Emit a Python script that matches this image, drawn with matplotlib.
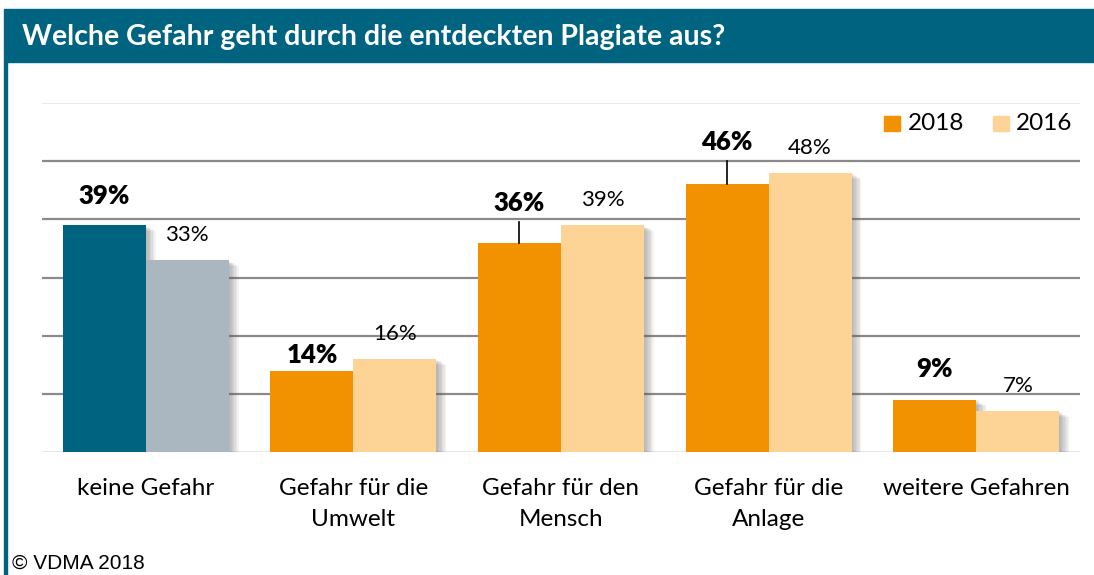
import matplotlib
matplotlib.use("Agg")
import matplotlib.pyplot as plt
import matplotlib.patheffects as pe
from matplotlib.patches import Rectangle
import numpy as np

TEAL = "#00637F"
GREY = "#ABB7C0"
ORANGE = "#F39200"
LIGHT = "#FED396"

title = "Welche Gefahr geht durch die entdeckten Plagiate aus?"
categories = ["keine Gefahr", "Gefahr für die\nUmwelt", "Gefahr für den\nMensch",
              "Gefahr für die\nAnlage", "weitere Gefahren"]
values_2018 = [39, 14, 36, 46, 9]
values_2016 = [33, 16, 39, 48, 7]
labels_2018 = ["39%", "14%", "36%", "46%", "9%"]
labels_2016 = ["33%", "16%", "39%", "48%", "7%"]
series_names = ["2018", "2016"]

# label placement above bar top (data units), leader line if far away
offset_2018 = [5.0, 2.7, 6.8, 7.3, 5.3]
offset_2016 = 4.3

plt.rcParams['font.family'] = ['Lato', 'DejaVu Sans']

fig = plt.figure(figsize=(10.94, 5.75), dpi=100)

# title bar and left border
fig.patches.append(Rectangle((4 / 1094, 1 - 62 / 575), 1 - 4 / 1094, 53 / 575,
                             transform=fig.transFigure, color=TEAL, zorder=0))
fig.patches.append(Rectangle((4 / 1094, 0), 3 / 1094, 1 - 62 / 575,
                             transform=fig.transFigure, color=TEAL, zorder=0))
fig.text(22 / 1094, 1 - 37 / 575, title, color="white", fontsize=20.5,
         fontweight="bold", va="center", ha="left")
fig.text(12 / 1094, 2 / 575, "© VDMA 2018", fontsize=15,
         family="Liberation Sans", va="bottom", ha="left")

ax = fig.add_axes([42 / 1094, 1 - 452 / 575, 1038 / 1094, 349 / 575])
ax.set_xlim(-0.5, 4.5)
ax.set_ylim(0, 60)
for s in ax.spines.values():
    s.set_visible(False)
ax.set_xticks([])
ax.set_yticks([])

for y in range(10, 60, 10):
    ax.axhline(y, color="#8a8a8a", lw=1.6, zorder=0)
ax.axhline(60, color="#e6e6e6", lw=1.2, zorder=0)
ax.axhline(0, color="#e2e2e2", lw=1.2, zorder=0)

x = np.arange(len(categories))
w = 0.4
shadow = [pe.SimplePatchShadow(offset=(k, -0.6 * k), shadow_rgbFace="#555555", alpha=0.07)
          for k in range(1, 8)] + [pe.Normal()]

c18 = [TEAL] + [ORANGE] * 4
c16 = [GREY] + [LIGHT] * 4
b18 = ax.bar(x - w / 2, values_2018, w, color=c18, zorder=2, label=series_names[0])
b16 = ax.bar(x + w / 2, values_2016, w, color=c16, zorder=3, label=series_names[1])
for b in list(b18) + list(b16):
    b.set_path_effects(shadow)

for i in range(len(categories)):
    ly = values_2018[i] + offset_2018[i]
    ax.text(x[i] - w / 2, ly, labels_2018[i], ha="center", va="center",
            fontsize=18.5, fontweight="heavy", zorder=5)
    if offset_2018[i] > 6:
        ax.plot([x[i] - w / 2] * 2, [values_2018[i], ly - 3.3], color="black", lw=1.2, zorder=4)
    ax.text(x[i] + w / 2, values_2016[i] + offset_2016, labels_2016[i], ha="center",
            va="center", fontsize=16, zorder=5)
    ax.text(x[i], -4.4, categories[i], ha="center", va="top", fontsize=17.5,
            linespacing=1.6)

# legend
fig.patches.append(Rectangle((884 / 1094, 1 - 131 / 575), 16 / 1094, 15 / 575,
                             transform=fig.transFigure, color=ORANGE))
fig.text(908 / 1094, 1 - 124 / 575, series_names[0], fontsize=17.5, va="center")
fig.patches.append(Rectangle((993 / 1094, 1 - 131 / 575), 16 / 1094, 15 / 575,
                             transform=fig.transFigure, color=LIGHT))
fig.text(1016 / 1094, 1 - 124 / 575, series_names[1], fontsize=17.5, va="center")

fig.savefig("out.png", dpi=100)
